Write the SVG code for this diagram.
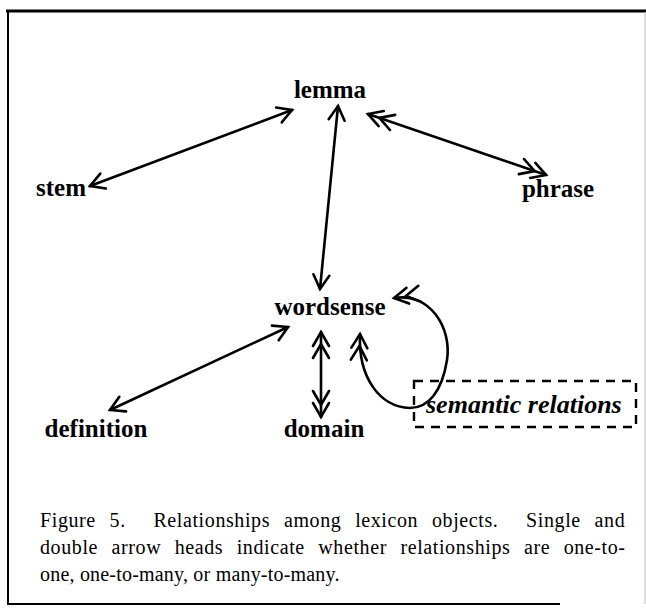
<svg xmlns="http://www.w3.org/2000/svg" width="646" height="614" viewBox="0 0 646 614">
<style>
.node{font-family:"Liberation Serif","Times New Roman",serif;font-weight:bold;font-size:25px;fill:#000;text-anchor:middle}
.sem{font-family:"Liberation Serif","Times New Roman",serif;font-weight:bold;font-style:italic;font-size:26px;fill:#000}
.cap{font-family:"Liberation Serif","Times New Roman",serif;font-size:20px;fill:#000}
.edge{fill:none;stroke:#000;stroke-width:2.6;stroke-linecap:round}
.head{fill:none;stroke:#000;stroke-width:2.6;stroke-linecap:round;stroke-linejoin:miter}
</style>
<defs>
<marker id="v1" viewBox="-18 -12 22 24" refX="0" refY="0" markerWidth="22" markerHeight="24" markerUnits="userSpaceOnUse" orient="auto-start-reverse">
<path class="head" d="M-14,-8 L0,0 L-14,8"/>
</marker>
<marker id="v2" viewBox="-30 -12 34 24" refX="0" refY="0" markerWidth="34" markerHeight="24" markerUnits="userSpaceOnUse" orient="auto-start-reverse">
<path class="head" d="M-14,-8 L0,0 L-14,8 M-26,-8 L-12,0 L-26,8"/>
</marker>
</defs>
<rect width="646" height="614" fill="#fff"/>
<g id="frame">
<line x1="6" y1="11" x2="646" y2="11" stroke="#000" stroke-width="3"/>
<line x1="8" y1="10" x2="8" y2="605" stroke="#000" stroke-width="2"/>
<line x1="7" y1="604" x2="560" y2="604" stroke="#000" stroke-width="2"/>
<line x1="645" y1="12" x2="645" y2="604" stroke="#bbb" stroke-width="1"/>
</g>
<g id="connectors">
<path class="edge" d="M90,186 L292,110" marker-start="url(#v1)" marker-end="url(#v1)"/>
<path class="edge" d="M320,289 L338,106" marker-start="url(#v1)" marker-end="url(#v1)"/>
<path class="edge" d="M368,114 L546,175" marker-start="url(#v2)" marker-end="url(#v2)"/>
<path class="edge" d="M110,410 L288,327" marker-start="url(#v1)" marker-end="url(#v1)"/>
<path class="edge" d="M321,332 L321,417" marker-start="url(#v2)" marker-end="url(#v2)"/>
<path class="edge" d="M394,298 C430,292 452,328 447,360 C442,392 428,408 410,408 C380,407 358,378 360,334" marker-start="url(#v2)" marker-end="url(#v2)"/>
</g>
<g id="lemma"><text class="node" x="330" y="98">lemma</text></g>
<g id="stem"><text class="node" x="61" y="196">stem</text></g>
<g id="phrase"><text class="node" x="558" y="197">phrase</text></g>
<g id="wordsense"><text class="node" x="330" y="315">wordsense</text></g>
<g id="definition"><text class="node" x="96" y="437">definition</text></g>
<g id="domain"><text class="node" x="324" y="437">domain</text></g>
<g id="semantic-relations">
<rect x="414" y="381" width="222" height="46" fill="none" stroke="#000" stroke-width="2.4" stroke-dasharray="9,7"/>
<text class="sem" x="426" y="413">semantic relations</text>
</g>
<g id="caption">
<text class="cap" x="40" y="527" xml:space="preserve" letter-spacing="0.6" word-spacing="8.2">Figure 5.  Relationships among lexicon objects.  Single and</text>
<text class="cap" x="40" y="554" letter-spacing="0.6" word-spacing="7.9">double arrow heads indicate whether relationships are one-to-</text>
<text class="cap" x="40" y="581" letter-spacing="0.2">one, one-to-many, or many-to-many.</text>
</g>
</svg>
